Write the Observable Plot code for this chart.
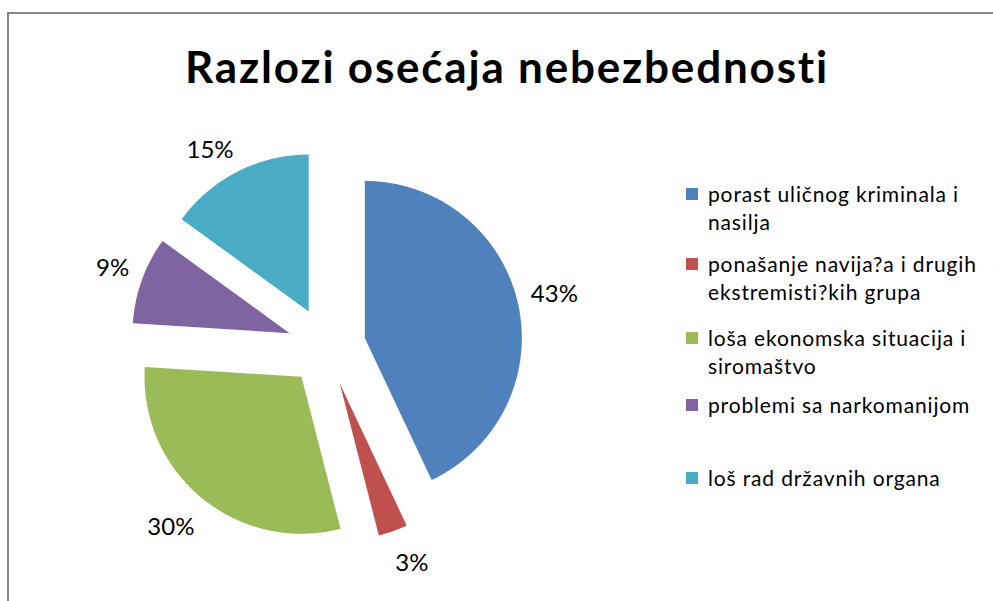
<!DOCTYPE html>
<html>
<head>
<meta charset="utf-8">
<script src="https://cdn.jsdelivr.net/npm/d3@7"></script>
<script src="https://cdn.jsdelivr.net/npm/@observablehq/plot@0.6"></script>
<style>
  html, body { margin: 0; padding: 0; background: #fff; }
  #wrap { position: relative; width: 993px; height: 601px; overflow: hidden; font-family: Lato, "Open Sans", sans-serif; }
  #frame { position: absolute; left: 7px; top: 12px; width: 1000px; height: 600px; border-top: 2px solid #878787; border-left: 2px solid #878787; }
  #chart { position: absolute; left: 0; top: 0; }
  #title { position: absolute; left: 1px; width: 1012px; top: 38px; text-align: center; font-weight: 700; font-size: 44px; line-height: 56px; letter-spacing: 1.8px; color: #000; }
  .item { position: absolute; left: 686px; width: 300px; }
  .sw { position: absolute; left: 0; width: 12px; height: 12px; }
  .tx { position: absolute; left: 22px; width: 290px; font-size: 21px; line-height: 28px; color: #000; white-space: pre; letter-spacing: 0.85px; }
</style>
</head>
<body>
<div id="wrap">
  <div id="frame"></div>
  <div id="chart"></div>
  <div id="title"></div>
  <div id="legend"></div>
</div>
<script>
const title = "Razlozi osećaja nebezbednosti";
const categories = [
  "porast uličnog kriminala i nasilja",
  "ponašanje navija?a i drugih ekstremisti?kih grupa",
  "loša ekonomska situacija i siromaštvo",
  "problemi sa narkomanijom",
  "loš rad državnih organa"
];
const legendLines = [
  ["porast uličnog kriminala i", "nasilja"],
  ["ponašanje navija?a i drugih", "ekstremisti?kih grupa"],
  ["loša ekonomska situacija i", "siromaštvo"],
  ["problemi sa narkomanijom"],
  ["loš rad državnih organa"]
];
const values = [43, 3, 30, 9, 15];
const valueLabels = ["43%", "3%", "30%", "9%", "15%"];
const colors = ["#4F81BD", "#C0504D", "#9BBB59", "#8064A2", "#4BACC6"];

// geometry constants (layout, not data)
const CX = 326, CY = 346, R = 157, EXPLODE = 0.25, LABEL_R = 1.36;
const LABEL_CHAR_W = 13, LABEL_H = 22;

const arcs = d3.pie().sort(null)(values);
const slicePts = [];
const labelPts = [];
arcs.forEach((a, i) => {
  const cat = categories[i];
  const mid = (a.startAngle + a.endAngle) / 2;
  const sx = Math.sin(mid), sy = -Math.cos(mid);
  const ox = EXPLODE * sx, oy = EXPLODE * sy;
  slicePts.push({cat, x: ox, y: oy});
  const n = Math.max(4, Math.ceil((a.endAngle - a.startAngle) / 0.01));
  for (let k = 0; k <= n; k++) {
    const t = a.startAngle + (a.endAngle - a.startAngle) * k / n;
    slicePts.push({cat, x: ox + Math.sin(t), y: oy - Math.cos(t)});
  }
  const lbl = valueLabels[i];
  const w = LABEL_CHAR_W * lbl.length;
  labelPts.push({
    cat, label: lbl,
    x: LABEL_R * sx + Math.sign(sx) * (w / 2) / R,
    y: LABEL_R * sy + Math.sign(sy) * (LABEL_H / 2) / R
  });
});

const K = 2;
const plot = Plot.plot({
  width: 993,
  height: 601,
  margin: 0,
  x: {domain: [-K, K], range: [CX - K * R, CX + K * R], axis: null},
  y: {domain: [-K, K], range: [CY - K * R, CY + K * R], axis: null},
  color: {domain: categories, range: colors},
  style: {background: "transparent", overflow: "visible"},
  marks: [
    Plot.line(slicePts, {x: "x", y: "y", z: "cat", fill: "cat", stroke: "none", curve: "linear-closed"}),
    Plot.text(labelPts, {x: "x", y: "y", dy: 5, text: "label", fontSize: 24, fontFamily: "Lato, sans-serif", fill: "#000"})
  ]
});
document.getElementById("chart").appendChild(plot);

document.getElementById("title").textContent = title;

// legend
const legendTops = [180, 250, 324, 391, 464];
const leg = document.getElementById("legend");
categories.forEach((c, i) => {
  const item = document.createElement("div");
  item.className = "item";
  item.style.top = legendTops[i] + "px";
  const sw = document.createElement("div");
  sw.className = "sw";
  sw.style.background = colors[i];
  sw.style.top = "8px";
  const tx = document.createElement("div");
  tx.className = "tx";
  tx.textContent = legendLines[i].join("\n");
  item.appendChild(sw);
  item.appendChild(tx);
  leg.appendChild(item);
});
</script>
</body>
</html>
